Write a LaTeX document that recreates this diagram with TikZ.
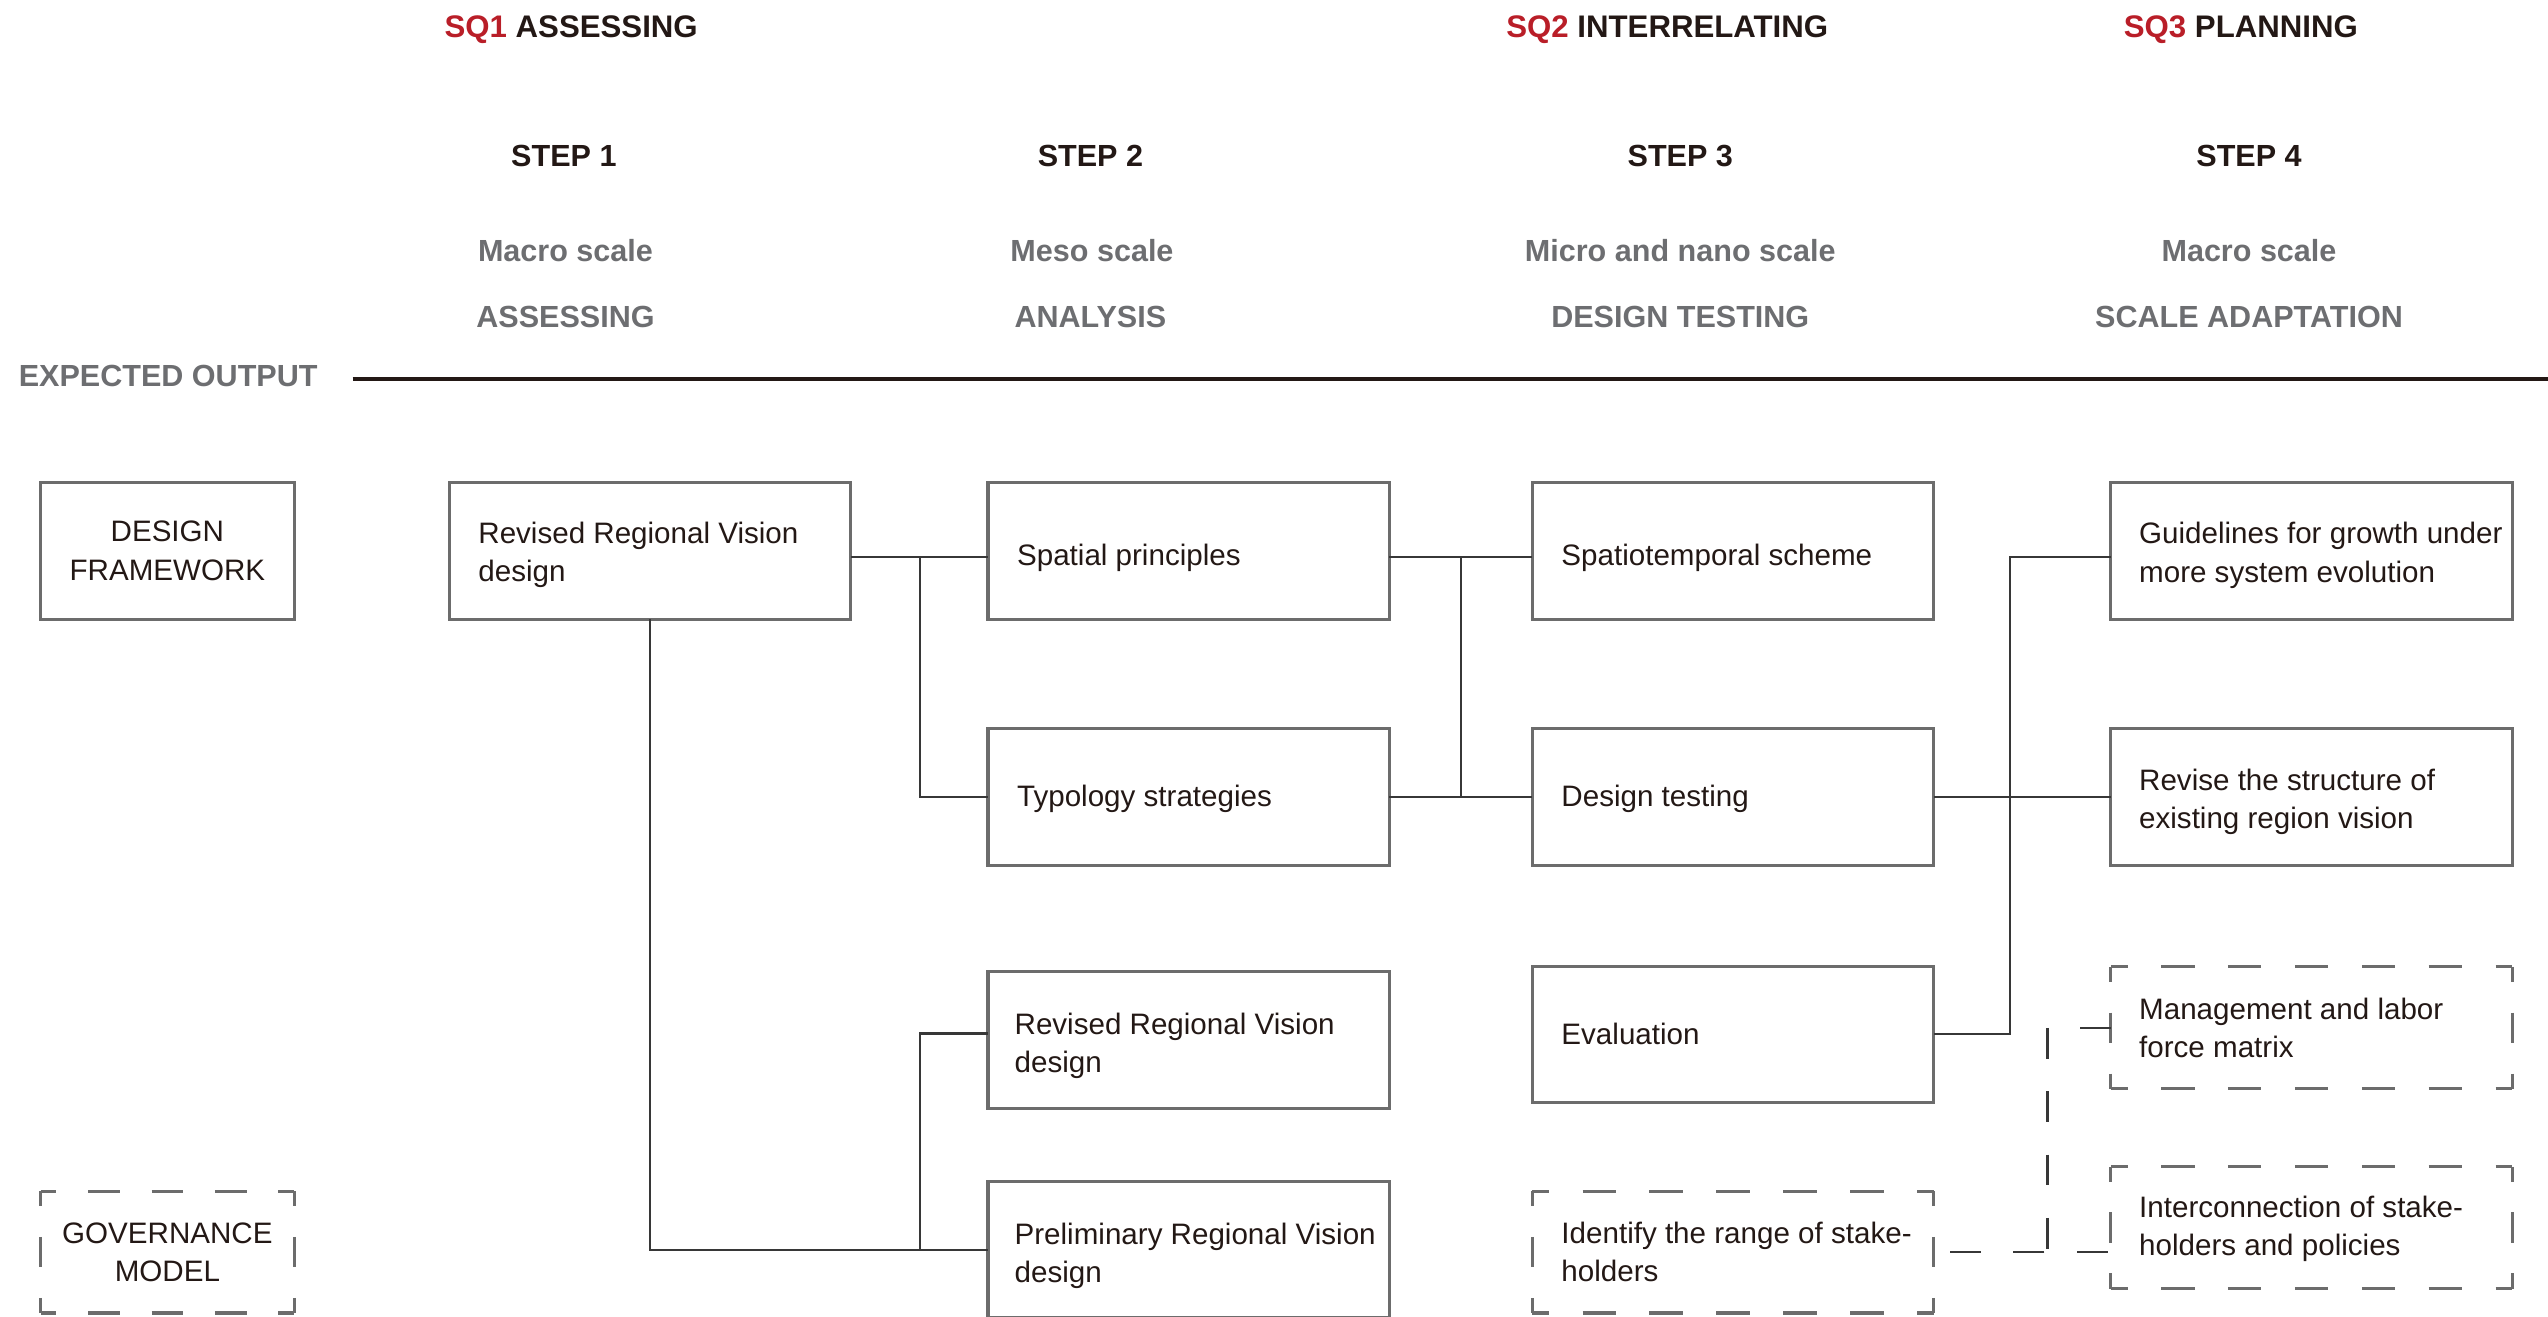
\documentclass[tikz,border=0pt]{standalone}
\usepackage{fontspec}
\setmainfont{Liberation Sans}
\definecolor{sqred}{RGB}{185,30,40}
\definecolor{ink}{RGB}{35,24,21}
\definecolor{hgray}{RGB}{109,110,113}
\definecolor{bgray}{RGB}{108,108,108}
\definecolor{lgray}{RGB}{55,55,55}
\newcommand\dsides[3]{%
  \draw[dline,#2] (#1.north west) -- (#1.north east);
  \draw[dline,#2] (#1.south west) -- (#1.south east);
  \draw[dline,#3] (#1.north west) -- (#1.south west);
  \draw[dline,#3] (#1.north east) -- (#1.south east);}
\begin{document}
\begin{tikzpicture}[x=0.5pt,y=-0.5pt,
  box/.style={draw=bgray, line width=0.95pt, minimum width=123.5pt, minimum height=42pt, inner sep=0pt, outer sep=0pt},
  sbox/.style={box, minimum width=78pt},
  dbox/.style={draw=none, minimum width=123.5pt, minimum height=37.5pt, inner sep=0pt, outer sep=0pt},
  dsbox/.style={dbox, minimum width=78pt},
  dline/.style={draw=bgray, line width=0.95pt},
  dwide/.style={dash pattern=on 10.2917pt off 10.2917pt, dash phase=5.1458pt},
  dnarrow/.style={dash pattern=on 9.75pt off 9.75pt, dash phase=4.875pt},
  dtall/.style={dash pattern=on 9.375pt off 9.375pt, dash phase=4.6875pt},
  txt/.style={anchor=west, align=left, inner sep=0pt, text=ink, font=\fontsize{9.1}{11.75}\selectfont},
  ctxt/.style={align=center, inner sep=0pt, text=ink, font=\fontsize{9.1}{11.75}\selectfont},
  conn/.style={draw=lgray, line width=0.65pt},
  dconn/.style={draw=lgray, line width=0.65pt, dash pattern=on 9.5pt off 10pt},
  stephead/.style={font=\bfseries\fontsize{9.4}{11}\selectfont, text=ink, inner sep=0pt},
  sqhead/.style={font=\bfseries\fontsize{9.6}{11}\selectfont, text=ink, inner sep=0pt},
  ghead/.style={font=\bfseries\fontsize{9.4}{11}\selectfont, text=hgray, inner sep=0pt},
]
\useasboundingbox (0,0) rectangle (1568,810);

% ---- headers
\node[sqhead] (sq1) at (351.5,18) {\textcolor{sqred}{SQ1} ASSESSING};
\node[sqhead] (sq2) at (1026,18) {\textcolor{sqred}{SQ2} INTERRELATING};
\node[sqhead] (sq3) at (1379,18) {\textcolor{sqred}{SQ3} PLANNING};

\node[stephead] (st1) at (347,96) {STEP 1};
\node[stephead] (st2) at (671,96) {STEP 2};
\node[stephead] (st3) at (1034,96) {STEP 3};
\node[stephead] (st4) at (1384,96) {STEP 4};

\node[ghead] (sc1) at (348,154) {Macro scale};
\node[ghead] (sc2) at (672,154) {Meso scale};
\node[ghead] (sc3) at (1034,154) {Micro and nano scale};
\node[ghead] (sc4) at (1384,154) {Macro scale};

\node[ghead] (ph1) at (348,195) {ASSESSING};
\node[ghead] (ph2) at (671,195) {ANALYSIS};
\node[ghead] (ph3) at (1034,195) {DESIGN TESTING};
\node[ghead] (ph4) at (1384,195) {SCALE ADAPTATION};

\node[ghead] (eo) at (103.5,231.5) {EXPECTED OUTPUT};
\coordinate (eoL) at (217,233);
\coordinate (eoR) at (1568,233);
\draw[draw=ink, line width=1.25pt] (eoL) -- (eoR);

% ---- solid boxes
\node[sbox] (df) at (103,339) {};
\node[ctxt] (dft) at (df.center) {DESIGN\\FRAMEWORK};

\node[box] (rrv1) at (400,339) {};
\node[txt] (rrv1t) at ([xshift=8.75pt,yshift=-1.2pt]rrv1.west) {Revised Regional Vision\\design};

\node[box] (sp) at (731.5,339) {};
\node[txt] (spt) at ([xshift=8.75pt,yshift=-2pt]sp.west) {Spatial principles};

\node[box] (sts) at (1066.5,339) {};
\node[txt] (stst) at ([xshift=8.75pt,yshift=-2pt]sts.west) {Spatiotemporal scheme};

\node[box] (gl) at (1422.5,339) {};
\node[txt] (glt) at ([xshift=8.5pt,yshift=-1.4pt]gl.west) {Guidelines for growth under\\more system evolution};

\node[box] (ty) at (731.5,490.5) {};
\node[txt] (tyt) at ([xshift=8.75pt,yshift=-0.5pt]ty.west) {Typology strategies};

\node[box] (dt) at (1066.5,490.5) {};
\node[txt] (dtt) at ([xshift=8.75pt,yshift=-0.5pt]dt.west) {Design testing};

\node[box] (rs) at (1422.5,490.5) {};
\node[txt] (rst) at ([xshift=8.5pt,yshift=-1.5pt]rs.west) {Revise the structure of\\existing region vision};

\node[box] (rrv2) at (731.5,640) {};
\node[txt] (rrv2t) at ([xshift=8pt,yshift=-1.7pt]rrv2.west) {Revised Regional Vision\\design};

\node[box] (ev) at (1066.5,636.5) {};
\node[txt] (evt) at ([xshift=8.75pt]ev.west) {Evaluation};

\node[box] (pre) at (731.5,769) {};
\node[txt] (pret) at ([xshift=8pt,yshift=-2pt]pre.west) {Preliminary Regional Vision\\design};

% ---- dashed boxes
\node[dbox] (mg) at (1422.5,632.5) {};
\dsides{mg}{dwide}{dtall}
\node[txt] (mgt) at ([xshift=8.5pt]mg.west) {Management and labor\\force matrix};

\node[dbox] (ic) at (1422.5,755.5) {};
\dsides{ic}{dwide}{dtall}
\node[txt] (ict) at ([xshift=8.5pt,yshift=-0.4pt]ic.west) {Interconnection of stake-\\holders and policies};

\node[dbox] (id) at (1066.5,770.5) {};
\dsides{id}{dwide}{dtall}
\node[txt] (idt) at ([xshift=8.75pt]id.west) {Identify the range of stake-\\holders};

\node[dsbox] (gov) at (103,770.5) {};
\dsides{gov}{dnarrow}{dtall}
\node[ctxt] (govt) at (gov.center) {GOVERNANCE\\MODEL};

% ---- junction x positions
\coordinate (jA) at (566,0);
\coordinate (jB) at (899,0);
\coordinate (jC) at (1237,0);
\coordinate (jD) at (1260,0);

% ---- connectors
\coordinate (r1o) at ([yshift=-2pt]rrv1.east);
\coordinate (spi) at ([yshift=-2pt]sp.west);
\coordinate (spo) at ([yshift=-2pt]sp.east);
\coordinate (stsi) at ([yshift=-2pt]sts.west);
\coordinate (gli) at ([yshift=-2pt]gl.west);
\coordinate (r2i) at ([yshift=2pt]rrv2.west);

\draw[conn] (r1o) -- (spi);
\draw[conn] (r1o -| jA) |- (ty.west);
\draw[conn] (rrv1.south) |- (pre.west);
\draw[conn] (pre.west -| jA) |- (r2i);

\draw[conn] (spo) -- (stsi);
\draw[conn] (spo -| jB) |- (ty.east);
\draw[conn] (ty.east) -- (dt.west);

\draw[conn] (dt.east) -- (rs.west);
\draw[conn] (gli) -| (jC |- ev.east) -- (ev.east);

\draw[dconn] (mg.west) -| (jD |- id.east);
\draw[dconn, dash phase=18.5pt] (id.east -| ic.west) -- (id.east);
\end{tikzpicture}
\end{document}
